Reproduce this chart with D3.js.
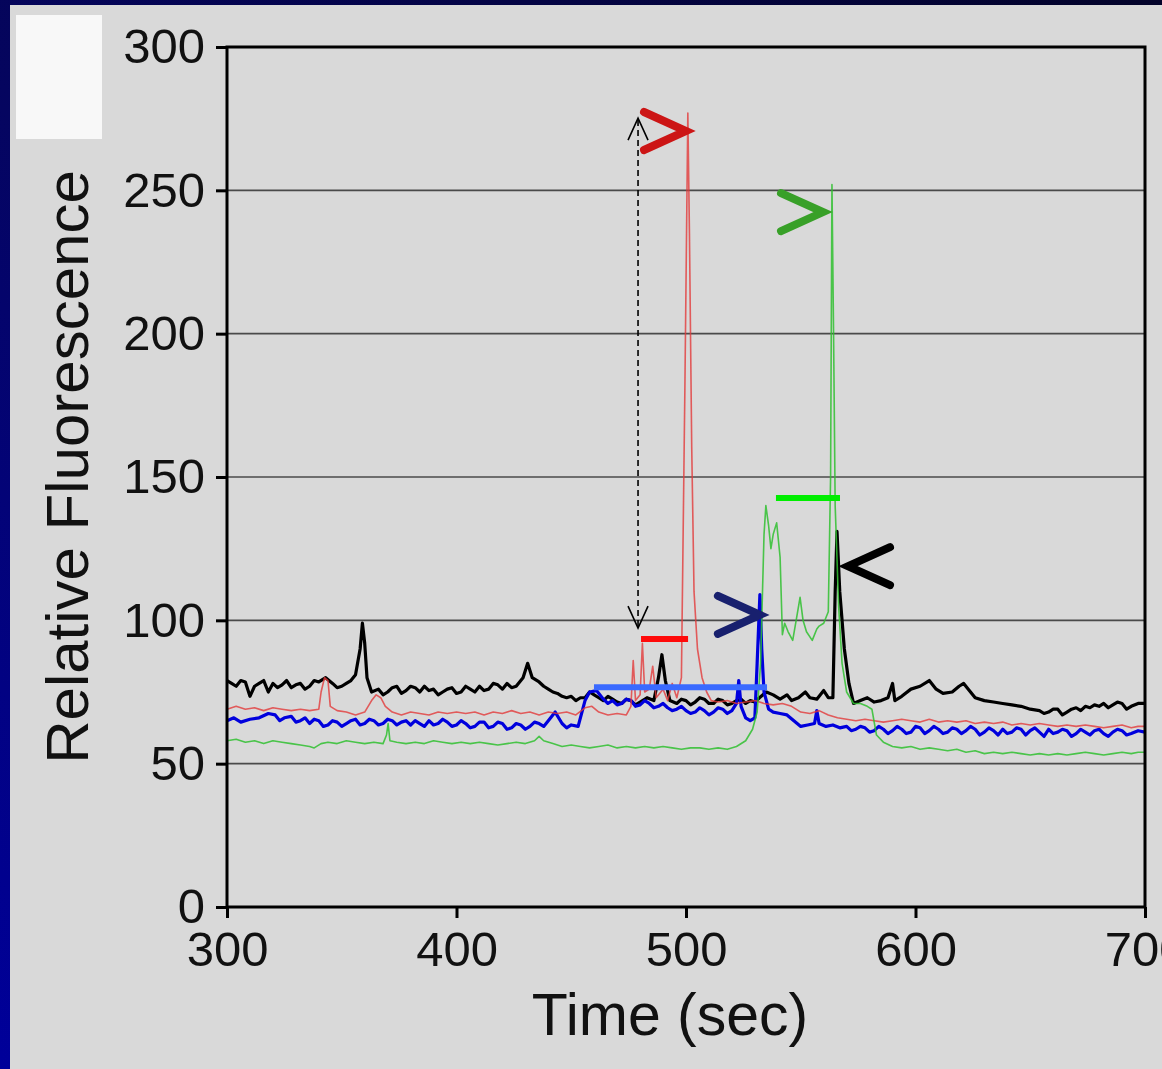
<!DOCTYPE html>
<html>
<head>
<meta charset="utf-8">
<script src="https://d3js.org/d3.v7.min.js"></script>
<style>
  html, body { margin: 0; padding: 0; }
  body { width: 1162px; height: 1069px; overflow: hidden; }
  text { font-family: "Liberation Sans", Arial, Helvetica, sans-serif; }
</style>
</head>
<body>
<div id="chart"></div>
<script>
// tick values
const xTicks = [300, 400, 500, 600, 700];
const yTicks = [0, 50, 100, 150, 200, 250, 300];
const gridValues = [50, 100, 150, 200, 250];

// traces: [time (sec), relative fluorescence]
const blackTrace = [
  [300,79],[302,78],[304,77],[306,79],[308,78.5],[310,73.5],[312,77],[314,78],[316,79],[318,75],[320,78],[322,76.5],[324,77.5],[326,79],[328,76.5],
  [330,77.5],[332,78],[334,76],[336,77],[338,79],[340,78.5],[343,80],[346,78],[348,76.5],[350,77],[352,78],[354,79],[356,81],[358,90],[359,99],
  [360,92],[361,80],[363,75],[366,76],[368,74],[370,75],[372,76.5],[374,77],[376,74.5],[378,75.5],[380,77],[382,76.5],[384,75],[386,77],[388,75.5],[390,76],
  [392,74],[394,75],[396,76],[398,76.5],[400,74.5],[402,75],[404,77],[406,76],[408,75],[410,77],[412,75.5],[414,76],[416,78],[418,77.5],[420,76],[422,78],[424,76.5],[426,77],[429,80],
  [431,85],[433,80],[436,78.5],[438,77],[440,76],[442,75],[444,74.5],[446,73.5],[448,73],[450,73.5],[452,72],[454,73],[456,73],[458,75],[460,74],[462,73],[464,72],
  [466,73.5],[468,72.5],[470,71.5],[472,71],[474,72.5],[476,72],[478,70.5],[480,71.5],[483,73],[486,72],[488,80],[489.5,88],[491,79],[493,72],
  [496,71],[498,72.5],[500,72],[502,70.5],[504,71.5],[506,73],[508,72.5],[510,71],[512,71],[514,72.5],[516,72],[518,70.5],[520,71],[522,72],[524,72.5],[526,71],[528,72],[530,71.5],[532,73],
  [535,75],[538,74],[541,72.5],[544,74],[546,72],[549,73],[552,75],[554,73],[557,72.5],[560,75.5],
  [562,73],[564,73],[565,110],[565.8,131],[567,110],[569,90],[571,78],[573,71],[576,72],[579,73],
  [582,71.5],[585,72],[588,73],[590,78],[591,72],[594,73.5],[598,76],[602,77],[606,79],[609,76],
  [612,74.5],[616,75],[619,77],[621,78],[623,76],[626,73],[630,72],[634,71.5],[638,71],[642,70.5],
  [646,70],[650,69],[654,68.5],[656,67.5],[658,68],[660,69],[662,69],[664,67],[666,68],[668,69],[670,69.5],[672,68.5],[674,70],[676,69.5],[678,70.5],[680,70],[682,71],
  [684,69.5],[686,70.5],[688,71.5],[690,71],[692,69],[694,70],[697,71],[700,71]
];
const blueTrace = [
  [300,65],[303,66],[306,64.5],[310,65.5],[314,66],[318,67.5],[321,67],[323,65],[325,66],[328,66.5],[330,64.5],[332,65],
  [334,66],[336,64],[338,65.5],[340,65],[342,63],[344,63.5],[346,65],[348,64.5],[350,63],[352,64],[354,65],[356,65.5],[358,63.5],[360,64],[362,65.5],[364,65],[366,63.5],[368,64],[370,65.5],[372,65],
  [374,63.5],[376,64.5],[378,65],[380,63.5],[382,65],[384,64],[386,63],[388,65],[390,63.5],[392,64],[394,65.5],[396,64.5],[398,63],[400,63.5],[402,65],[404,64],[406,62.5],[408,63],[410,64.5],[412,64.5],
  [414,62.5],[416,63],[418,64.5],[420,64],[422,62],[424,62.5],[426,64],[428,63.5],[430,62],[432,63],[434,64.5],[436,64],[438,63],[440,65],[443,68],[446,64],[448,62.5],[450,63.5],
  [453,63],[456,72],[458,75],[461,75.5],[464,72.5],[466,71],[468,72],[470,70.5],[472,71],[474,72.5],[476,72],[478,70],[480,70.5],[482,72],[484,71],
  [486,69.5],[488,70],[490,71],[492,69.5],[494,68.5],[496,69],[498,70],[500,68.5],[502,67.5],[504,68],[506,69.5],[508,68.5],[510,67],[512,68],[514,69.5],[516,69],[518,67.5],[520,68.5],[522,71],
  [523,79],[524,70],[526,66],[528,65],[530,66],[531,85],[532.2,109],[533,90],[534,75],[536,69],
  [538,68],[541,67.5],[544,67],[547,65],[550,63],[553,63.5],[556,64],[557,68.5],[558,64],[561,63],
  [564,63.5],[567,62.5],[570,63],[572,61.5],[574,62],[576,63],[578,62.5],[580,61],[582,61.5],[584,63],[586,62],[588,60.5],[590,61.5],[592,63],[594,62],[596,60.5],[598,61],
  [600,63],[602,62.5],[604,60.5],[606,61.5],[608,63],[610,62],[612,60.5],[614,61],[616,62.5],[618,62],[620,60.5],[622,61.5],[624,63],[626,62],[628,60],[630,61],[632,62.5],[634,61.5],[636,60],[638,62],
  [640,60.5],[642,61],[644,62.5],[646,62],[648,60],[650,61.5],[652,62.5],[654,61],[656,59.5],[658,62],[660,60.5],[662,61],[664,62],[666,61.5],[668,59.5],[670,60.5],[672,62],[674,61],[676,60],[678,61.5],
  [680,62],[682,60.5],[684,59.5],[686,61],[688,62],[690,61.5],[692,60],[694,60.5],[697,61.5],[700,61]
];
const redTrace = [
  [300,69],[304,70],[308,69],[312,69.5],[316,68.5],[320,69.5],[324,69],[328,68.5],[332,69],[336,68.5],
  [340,69],[341,75],[342.5,80],[344,79],[345,70],[348,68.5],[352,68],[356,67],[360,68],[363,72],
  [365,74],[367,73],[369,70],[372,68],[376,67],[380,68],[384,67.5],[388,67],[392,68],[396,67.5],
  [400,68],[404,67.5],[408,68],[412,67],[416,68],[420,67.5],[424,68.5],[428,67.5],[432,68],[436,67],
  [440,68],[444,67.5],[448,68],[452,67],[456,69.5],[459,70],[462,68],[466,67],[470,67.5],[474,67],
  [476,70],[477,86],[478,72],[480,74],[481,92],[482,75],[484,76],[485.5,84],[487,73],[490,76],
  [492,72],[494,78],[496,73],[498,80],[499.5,180],[500.8,277],[501.5,235],[502.5,160],[503.5,110],[505,90],
  [507,80],[509,75],[511,72],[514,71.5],[518,72],[522,71],[526,71.5],[530,72],[534,71],[538,70.5],
  [542,71],[546,70],[550,68],[554,67.5],[558,68.5],[562,67],[566,66],[570,65.5],[574,65],[578,65.5],
  [582,65],[586,64.5],[590,65],[594,65.5],[598,65],[602,64.5],[606,65.5],[610,64.5],[614,65],[618,64.5],
  [622,65],[626,64],[630,64.5],[634,64],[638,64.5],[642,63.5],[646,64],[650,63.5],[654,64],[658,63.5],
  [662,63],[666,63.5],[670,63],[674,63.5],[678,63],[682,62.5],[686,63],[690,63.5],[694,62.5],[697,63],
  [700,63]
];
const greenTrace = [
  [300,58],[304,58.5],[308,57.5],[312,58],[316,57],[320,58],[324,57.5],[328,57],[332,56.5],[336,56],
  [338,55.5],[341,57],[344,57.5],[348,57],[352,58],[356,57.5],[360,57],[364,57.5],[368,57],[369.5,60],
  [370.2,64],[371,58],[374,57.5],[378,57],[382,57.5],[386,57],[390,58],[394,57.5],[398,57],[402,57.5],
  [406,57],[410,57.5],[414,57],[418,56.5],[422,57],[426,57.5],[430,57],[434,58],[436,59.5],[438,58],
  [442,57],[446,56],[450,56.5],[454,56],[458,55.5],[462,56],[466,56.5],[470,55.5],[474,56],[478,55.5],
  [482,56],[486,55.5],[490,56],[494,55.5],[498,55],[502,55.5],[506,55.5],[510,55],[514,55.5],[518,55],
  [522,56],[526,58],[529,62],[531,68],[532.5,85],[534,130],[534.8,140],[536,133],[537,125],[538,130],
  [539.5,134],[541,122],[542,95],[543,99],[544.5,96],[546.5,93],[548,100],[549.7,108],[551,100],[552.5,96],
  [555,93],[557,97],[558,98],[560,99],[562,103],[563,150],[563.6,252],[564.3,200],[565,140],[566.5,105],
  [568,85],[570,75],[573,71],[576,71],[579,70],[581,69],[583,60],[586,57.5],[590,56],[594,55.5],
  [598,56],[602,55],[606,55.5],[610,55],[614,54.5],[618,55],[622,54],[626,54.5],[630,53.5],[634,54],
  [638,53.5],[642,54],[646,53.5],[650,53],[654,53.5],[658,53],[662,53.5],[666,53],[670,53.5],[674,54],
  [678,53.5],[682,53],[686,53.5],[690,54],[694,53.5],[697,54],[700,54]
];

// annotation marks (data units)
const barMarks = [
  {x0: 480.4, x1: 500.9, y: 93.5, color: "#ff0a0a"},
  {x0: 459.9, x1: 535.3, y: 76.7, color: "#3a6aff"},
  {x0: 539.2, x1: 567.1, y: 142.7, color: "#00ee00"}
];
const chevrons = [
  {x: 500.0, y: 270.7, dir: 1, color: "#cc1515"},
  {x: 559.7, y: 242.4, dir: 1, color: "#38a028"},
  {x: 532.2, y: 101.9, dir: 1, color: "#18206e"},
  {x: 570.6, y: 118.9, dir: -1, color: "#000000"}
];
const dashedArrow = {x: 479.1, y0: 97.3, y1: 275.2};

const W = 1162, H = 1069;
const margin = {top: 47, right: 17, bottom: 162, left: 227};
const width = W - margin.left - margin.right,
      height = H - margin.top - margin.bottom;

const root = d3.select("#chart").append("svg")
    .attr("width", W)
    .attr("height", H);

// navy slide background
const defs = root.append("defs");
const grad = defs.append("linearGradient")
    .attr("id", "bg").attr("x1", "0").attr("y1", "1").attr("x2", "1").attr("y2", "0");
grad.append("stop").attr("offset", "0").attr("stop-color", "#00009a");
grad.append("stop").attr("offset", "0.45").attr("stop-color", "#050560");
grad.append("stop").attr("offset", "1").attr("stop-color", "#03032a");
root.append("rect").attr("width", W).attr("height", H).attr("fill", "url(#bg)");

// grey panel + white box
root.append("rect").attr("x", 10).attr("y", 5).attr("width", W - 10).attr("height", H - 5)
    .attr("fill", "#d9d9d9");
root.append("rect").attr("x", 16).attr("y", 15).attr("width", 86).attr("height", 124)
    .attr("fill", "#f8f8f8");

const svg = root.append("g")
    .attr("transform", "translate(" + margin.left + "," + margin.top + ")");

let x = d3.scaleLinear().domain([300, 700]).range([0, width]);
let y = d3.scaleLinear().domain([0, 300]).range([height, 0]);

// horizontal grid
svg.append("g")
  .selectAll("line")
  .data(gridValues)
  .enter().append("line")
    .attr("x1", 0).attr("x2", width)
    .attr("y1", d => y(d)).attr("y2", d => y(d))
    .attr("stroke", "#4a4a4a")
    .attr("stroke-width", 1.6);

// axes
let xAxis = svg.append("g")
    .attr("transform", "translate(0," + height + ")")
    .call(d3.axisBottom(x).tickValues(xTicks).tickSize(11).tickPadding(13).tickFormat(d3.format("d")));
let yAxis = svg.append("g")
    .call(d3.axisLeft(y).tickValues(yTicks).tickSize(11).tickPadding(11).tickFormat(d3.format("d")));
[xAxis, yAxis].forEach(function(a) {
  a.select(".domain").remove();
  a.selectAll("line").attr("stroke", "#000").attr("stroke-width", 3);
  a.selectAll("text").attr("font-size", 49).attr("fill", "#111")
    .attr("font-family", "'Liberation Sans', Arial, sans-serif");
});

// traces
let line = d3.line().x(d => x(d[0])).y(d => y(d[1]));
const traces = [
  {data: blackTrace, color: "#000000", w: 3.2, op: 1},
  {data: blueTrace, color: "#0000dd", w: 3.2, op: 1},
  {data: redTrace, color: "#e23a3a", w: 1.6, op: 0.8},
  {data: greenTrace, color: "#2fbf2f", w: 1.6, op: 0.85}
];
svg.append("g")
  .selectAll("path")
  .data(traces)
  .enter().append("path")
    .attr("d", d => line(d.data))
    .attr("fill", "none")
    .attr("stroke", d => d.color)
    .attr("stroke-width", d => d.w)
    .attr("stroke-opacity", d => d.op)
    .attr("stroke-linejoin", "round");

// horizontal marker bars
svg.append("g")
  .selectAll("line")
  .data(barMarks)
  .enter().append("line")
    .attr("x1", d => x(d.x0)).attr("x2", d => x(d.x1))
    .attr("y1", d => y(d.y)).attr("y2", d => y(d.y))
    .attr("stroke", d => d.color)
    .attr("stroke-width", 6);

// chevrons (tip sits at the data point)
svg.append("g")
  .selectAll("path")
  .data(chevrons)
  .enter().append("path")
    .attr("d", function(d) {
      let tx = x(d.x), ty = y(d.y), bx = tx - d.dir * 42;
      return "M" + bx + "," + (ty - 19) + "L" + tx + "," + ty + "L" + bx + "," + (ty + 19);
    })
    .attr("fill", "none")
    .attr("stroke", d => d.color)
    .attr("stroke-width", 8)
    .attr("stroke-linecap", "round")
    .attr("stroke-linejoin", "miter");

// dashed double arrow
let ax = x(dashedArrow.x), ay0 = y(dashedArrow.y0), ay1 = y(dashedArrow.y1);
let arrow = svg.append("g").attr("stroke", "#000").attr("fill", "none").attr("stroke-width", 1.6);
arrow.append("line")
    .attr("x1", ax).attr("x2", ax).attr("y1", ay1 + 2).attr("y2", ay0 - 2)
    .attr("stroke-dasharray", "6,4");
arrow.append("path")
    .attr("d", "M" + (ax - 10) + "," + (ay1 + 22) + "L" + ax + "," + ay1 + "L" + (ax + 10) + "," + (ay1 + 22));
arrow.append("path")
    .attr("d", "M" + (ax - 10) + "," + (ay0 - 22) + "L" + ax + "," + ay0 + "L" + (ax + 10) + "," + (ay0 - 22));

// frame
svg.append("rect")
    .attr("width", width).attr("height", height)
    .attr("fill", "none").attr("stroke", "#000").attr("stroke-width", 3);

// axis titles
svg.append("text")
    .attr("x", 443).attr("y", height + 128)
    .attr("text-anchor", "middle")
    .attr("font-size", 59).attr("fill", "#111")
    .text("Time (sec)");
svg.append("text")
    .attr("transform", "translate(-139," + (height / 2 - 10) + ") rotate(-90)")
    .attr("text-anchor", "middle")
    .attr("font-size", 60).attr("fill", "#111")
    .text("Relative Fluorescence");
</script>
</body>
</html>
